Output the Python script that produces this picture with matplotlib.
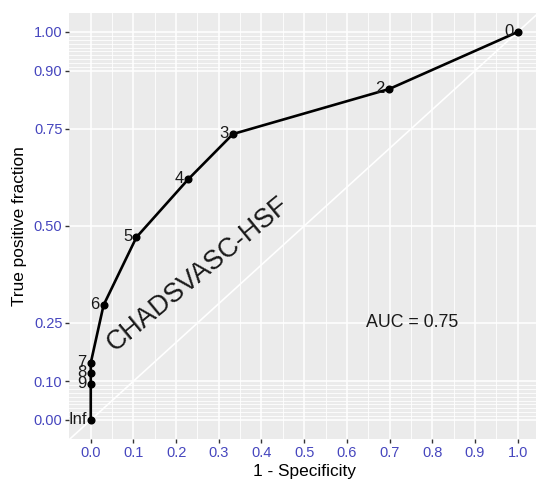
import numpy as np
import matplotlib
matplotlib.use('Agg')
import matplotlib.pyplot as plt

plt.rcParams['font.family'] = ['Liberation Sans', 'DejaVu Sans']

# ROC points (cutoffs from Inf down to 0)
fpr = [0.0, 0.0, 0.0, 0.0, 0.030, 0.107, 0.228, 0.333, 0.699, 1.0]
tpr = [0.0, 0.092, 0.120, 0.147, 0.296, 0.471, 0.620, 0.737, 0.853, 1.0]
cutoffs = ['Inf', '9', '8', '7', '6', '5', '4', '3', '2', '0']

x_ticks = [0.0, 0.1, 0.2, 0.3, 0.4, 0.5, 0.6, 0.7, 0.8, 0.9, 1.0]
y_ticks = [0.0, 0.1, 0.25, 0.5, 0.75, 0.9, 1.0]
y_tick_labels = ['0.00', '0.10', '0.25', '0.50', '0.75', '0.90', '1.00']

auc_text = 'AUC = 0.75'
curve_name = 'CHADSVASC-HSF'

tick_color = '#4646be'

fig = plt.figure(figsize=(5.36, 4.79), dpi=100)
ax = fig.add_axes([0.1295, 0.0827, 0.876, 0.891])
ax.set_facecolor('#ebebeb')

# minor grid (plotROC style)
x_minor = np.arange(0.05, 1.0, 0.1)
y_minor = list(np.arange(0.01, 0.1, 0.01)) + list(np.arange(0.91, 1.0, 0.01))
for v in x_minor:
    ax.axvline(v, color='white', lw=0.6, zorder=0)
for v in y_minor:
    ax.axhline(v, color='white', lw=0.6, zorder=0)
for v in x_ticks:
    ax.axvline(v, color='white', lw=1.1, zorder=0)
for v in y_ticks:
    ax.axhline(v, color='white', lw=1.1, zorder=0)

# reference diagonal
ax.axline((0, 0), (1, 1), color='white', lw=1.2, zorder=1)

ax.plot(fpr, tpr, color='black', lw=1.9, marker='o', markersize=4.8, zorder=3)

for x, y, lab in zip(fpr, tpr, cutoffs):
    t = ax.annotate(lab, (x, y), xytext=(-3, 0.5), textcoords='offset points',
                    ha='right', va='center', fontsize=12, color='#1a1a1a',
                    annotation_clip=False, zorder=4)
    t.set_clip_path(ax.patch)
    t.set_clip_on(True)

ax.text(0.754, 0.25, auc_text, fontsize=12.8, color='#1a1a1a',
        ha='center', va='center')
ax.text(0.25, 0.375, curve_name, fontsize=19.3, color='#1a1a1a',
        ha='center', va='center', rotation=39.5, rotation_mode='anchor')

ax.set_xlim(-0.05, 1.05)
ax.set_ylim(-0.05, 1.05)
ax.set_xticks(x_ticks)
ax.set_xticklabels(['%.1f' % v for v in x_ticks])
ax.set_yticks(y_ticks)
ax.set_yticklabels(y_tick_labels)
ax.tick_params(axis='both', length=3, width=1, color='#333333',
               labelsize=10.5, labelcolor=tick_color, pad=2)

for s in ax.spines.values():
    s.set_visible(False)

ax.set_xlabel('1 - Specificity', fontsize=12.4, color='black', labelpad=3)
ax.set_ylabel('True positive fraction', fontsize=12.4, color='black', labelpad=5)

fig.savefig('out.png', dpi=100)
